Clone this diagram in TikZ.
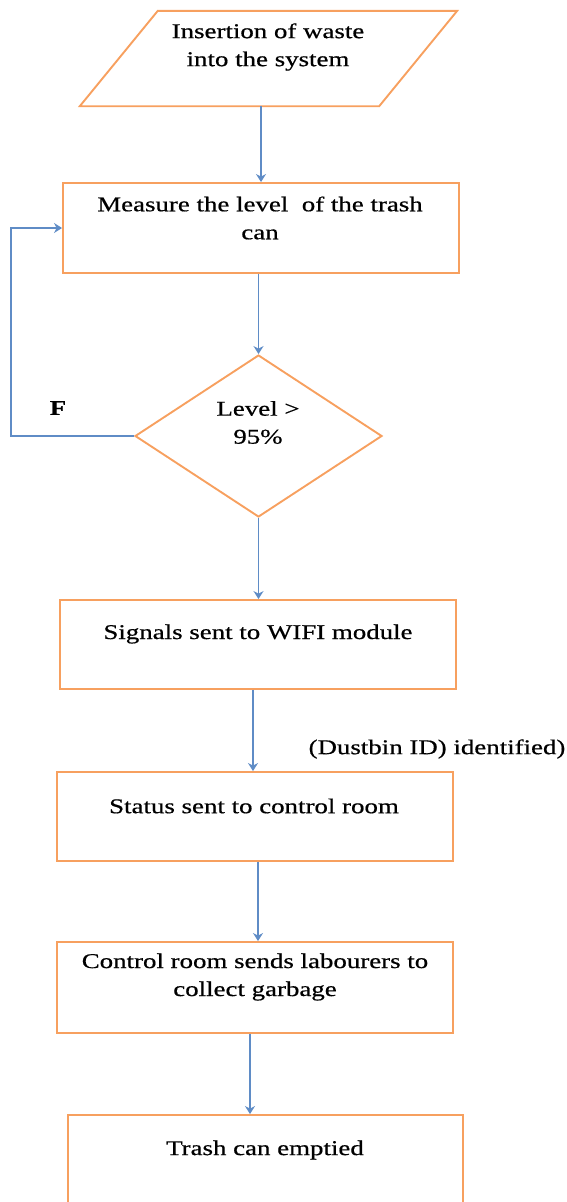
\documentclass[tikz,border=0pt]{standalone}
\usepackage{fontspec}
\setmainfont{Liberation Serif}[FakeStretch=1.28,FakeBold=0.6]
\usetikzlibrary{shapes.geometric,arrows.meta}
\definecolor{boxorange}{RGB}{247,160,95}
\definecolor{arrblue}{RGB}{95,140,198}
\tikzset{
  x=1pt,y=-1pt,
  shapeline/.style={draw=boxorange,line width=1.9pt},
  stepbox/.style={shapeline,minimum width=396pt,minimum height=90pt,inner sep=0pt},
  txt/.style={align=center,inner sep=0pt,font=\fontsize{21}{28}\selectfont},
  arr/.style={draw=arrblue,line width=1.8pt,-{Stealth[length=8pt,width=10pt]}},
}
\begin{document}
\begin{tikzpicture}
\useasboundingbox (0,0) rectangle (567,1202);
% shapes
\node[minimum width=299pt,minimum height=95pt,inner sep=0pt] (in) at (268.5,58.5) {};
\draw[shapeline,line join=miter] ([xshift=39pt]in.north west) -- ([xshift=39pt]in.north east)
   -- ([xshift=-39pt]in.south east) -- ([xshift=-39pt]in.south west) -- cycle;
\node[stepbox] (b2) at (261,228) {};
\node[diamond,shapeline,minimum width=247pt,minimum height=162pt,inner sep=0pt] (d) at (258.5,436) {};
\node[stepbox,minimum height=89pt] (b3) at (258,644.5) {};
\node[stepbox,minimum height=89pt] (b4) at (255,816.5) {};
\node[stepbox,minimum height=91pt] (b5) at (255,987.5) {};
\node[stepbox,minimum width=395pt,minimum height=100pt] (b6) at (265.5,1165) {};
% texts
\node[txt] (tin) at (268,47) {Insertion of waste\\into the system};
\node[txt] (tb2) at (260,218) {Measure the level\ \ of the trash\\can};
\node[txt] (td) at (258,422.5) {Level >\\95\%};
\node[txt] (tb3) at (258,634) {Signals sent to WIFI module};
\node[txt] (tb4) at (254,806) {Status sent to control room};
\node[txt] (tb5) at (255,977) {Control room sends labourers to\\collect garbage};
\node[txt] (tb6) at (265,1150) {Trash can emptied};
\node[txt,font=\fontsize{21}{28}\selectfont\bfseries] (f) at (58,408) {F};
\node[txt] (lid) at (437,749) {(Dustbin ID) identified)};
% connectors
\draw[arr] (in.south -| b2.north) -- (b2.north);
\draw[arr] (b2.south -| d.north) -- (d.north);
\draw[arr] (d.west) -- ++(-123,0) |- (b2.west);
\draw[arr] (d.south) -- (d.south |- b3.north);
\draw[arr] (b3.south -| 253,0) -- (b4.north -| 253,0);
\draw[arr] (b4.south -| 258,0) -- (b5.north -| 258,0);
\draw[arr] (b5.south -| 250,0) -- (b6.north -| 250,0);
\end{tikzpicture}
\end{document}
